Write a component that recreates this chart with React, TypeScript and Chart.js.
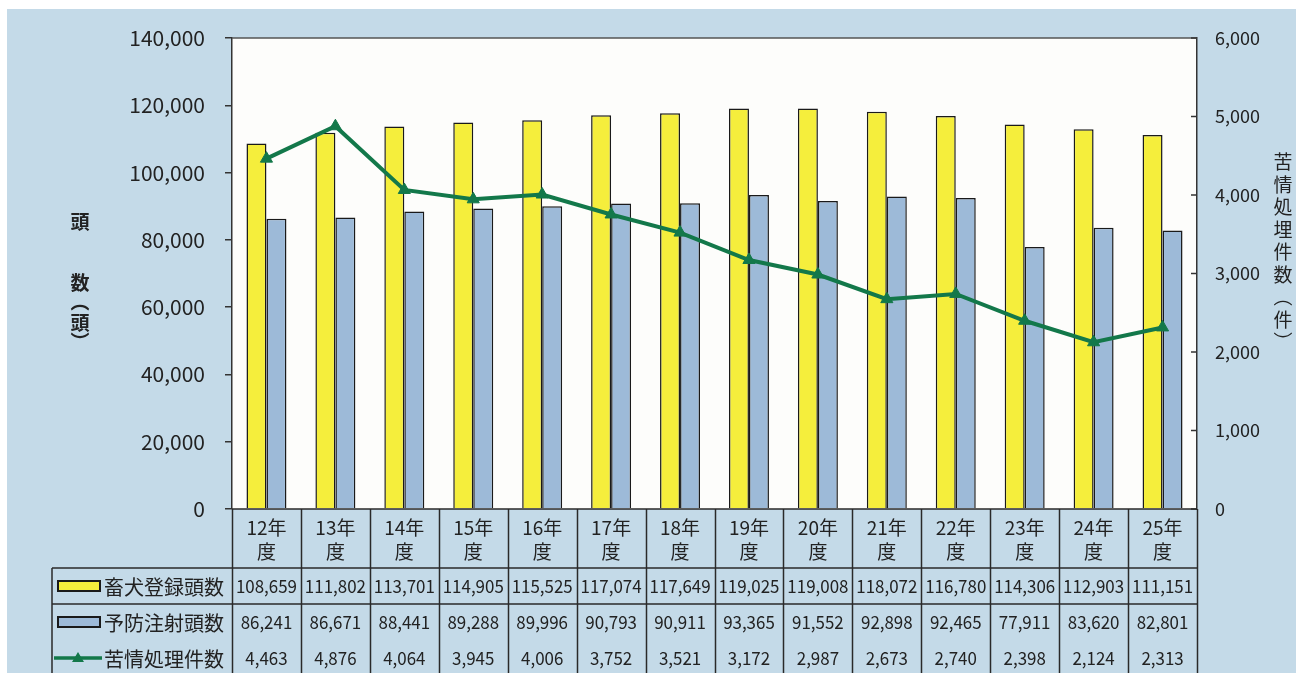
import React, { useEffect, useRef } from "react";
import { Chart, registerables } from "chart.js";

Chart.register(...registerables);

const categories = ["12年度", "13年度", "14年度", "15年度", "16年度", "17年度", "18年度", "19年度", "20年度", "21年度", "22年度", "23年度", "24年度", "25年度"];
const registrations = [108659, 111802, 113701, 114905, 115525, 117074, 117649, 119025, 119008, 118072, 116780, 114306, 112903, 111151];
const vaccinations = [86241, 86671, 88441, 89288, 89996, 90793, 90911, 93365, 91552, 92898, 92465, 77911, 83620, 82801];
const complaints = [4463, 4876, 4064, 3945, 4006, 3752, 3521, 3172, 2987, 2673, 2740, 2398, 2124, 2313];
const seriesNames = ["畜犬登録頭数", "予防注射頭数", "苦情処理件数"];
const leftTitle = ["頭", "", "数", "︵", "頭", "︶"];
const rightTitle = ["苦", "情", "処", "埋", "件", "数", "︵", "件", "︶"];
const leftTicks = { min: 0, max: 140000, step: 20000 };
const rightTicks = { min: 0, max: 6000, step: 1000 };

const BG = "#c4dae8";
const YELLOW = "#f5ee3c";
const BLUE = "#9dbad8";
const GREEN = "#13784a";
const INK = "#222222";
const FONT = '"Noto Sans CJK JP", "Noto Sans", sans-serif';

const fmt = (v: number) => v.toLocaleString("en-US");

const tablePlugin = {
  id: "tablePlugin",
  beforeDraw(chart: any) {
    const { ctx, chartArea, width, height } = chart;
    ctx.save();
    ctx.fillStyle = BG;
    ctx.fillRect(0, 0, width, height);
    ctx.fillStyle = "#fdfdfb";
    ctx.fillRect(chartArea.left, chartArea.top, chartArea.right - chartArea.left, chartArea.bottom - chartArea.top);
    ctx.restore();
  },
  afterDraw(chart: any) {
    const { ctx, chartArea, height } = chart;
    const x = chart.scales.x;
    const yR = chart.scales.y1;
    const n = categories.length;
    const colW = (chartArea.right - chartArea.left) / n;
    const rowTop = [559, 595, 631];
    const rowMid = [577, 613, 649];
    const legendLeft = 45;

    ctx.save();
    ctx.strokeStyle = "#555";
    ctx.lineWidth = 1.5;
    ctx.beginPath();
    ctx.moveTo(chartArea.left, chartArea.top);
    ctx.lineTo(chartArea.right, chartArea.top);
    ctx.stroke();

    ctx.strokeStyle = "#333";
    for (let v = rightTicks.min; v <= rightTicks.max; v += rightTicks.step) {
      const py = yR.getPixelForValue(v);
      ctx.beginPath();
      ctx.moveTo(chartArea.right - 6, py);
      ctx.lineTo(chartArea.right, py);
      ctx.stroke();
    }

    ctx.strokeStyle = "#2a2a2a";
    ctx.lineWidth = 1.5;
    for (let i = 0; i <= n; i++) {
      const px = Math.round(x.getPixelForValue(i) - colW / 2) + 0.5;
      ctx.beginPath();
      ctx.moveTo(px, chartArea.bottom);
      ctx.lineTo(px, height);
      ctx.stroke();
    }
    ctx.beginPath();
    ctx.moveTo(chartArea.left, chartArea.bottom);
    ctx.lineTo(chartArea.right, chartArea.bottom);
    ctx.moveTo(legendLeft, rowTop[0]);
    ctx.lineTo(chartArea.right, rowTop[0]);
    ctx.moveTo(legendLeft, rowTop[1]);
    ctx.lineTo(chartArea.right, rowTop[1]);
    ctx.moveTo(legendLeft, rowTop[0]);
    ctx.lineTo(legendLeft, height);
    ctx.stroke();

    const rows = [registrations, vaccinations, complaints];
    ctx.fillStyle = INK;
    ctx.textAlign = "center";
    ctx.textBaseline = "middle";
    ctx.font = `18px ${FONT}`;
    rows.forEach((arr, r) => {
      arr.forEach((v, i) => {
        ctx.save();
        ctx.translate(x.getPixelForValue(i), rowMid[r]);
        ctx.scale(0.94, 1);
        ctx.fillText(fmt(v), 0, 0);
        ctx.restore();
      });
    });

    ctx.textAlign = "left";
    ctx.font = `20px ${FONT}`;
    seriesNames.forEach((name, r) => {
      const cy = rowMid[r];
      if (r < 2) {
        ctx.fillStyle = r === 0 ? YELLOW : BLUE;
        ctx.fillRect(51, cy - 5, 42, 10);
        ctx.strokeStyle = "#1a1a1a";
        ctx.lineWidth = 2;
        ctx.strokeRect(51, cy - 5, 42, 10);
      } else {
        ctx.strokeStyle = GREEN;
        ctx.lineWidth = 3.5;
        ctx.beginPath();
        ctx.moveTo(47, cy);
        ctx.lineTo(95, cy);
        ctx.stroke();
        ctx.fillStyle = GREEN;
        ctx.beginPath();
        ctx.moveTo(71, cy - 6);
        ctx.lineTo(77, cy + 4);
        ctx.lineTo(65, cy + 4);
        ctx.closePath();
        ctx.fill();
      }
      ctx.fillStyle = INK;
      ctx.fillText(name, 97, cy + 1);
    });

    ctx.textAlign = "center";
    ctx.font = `bold 19px ${FONT}`;
    const leftY = [213, 236, 274, 293, 314, 333];
    leftTitle.forEach((ch, i) => {
      if (ch) ctx.fillText(ch, 73, leftY[i]);
    });
    ctx.font = `19px ${FONT}`;
    rightTitle.forEach((ch, i) => {
      ctx.fillText(ch, 1276, 153 + i * 22.5);
    });
    ctx.restore();
  },
};

export default function App() {
  const ref = useRef<HTMLCanvasElement | null>(null);
  useEffect(() => {
    if (!ref.current) return;
    const fitY = (w: number) => (s: any) => {
      s.width = w;
      s.paddingTop = 0;
      s.paddingBottom = 0;
    };
    const chart = new Chart(ref.current, {
      type: "bar",
      data: {
        labels: categories.map((c) => [c.replace("度", ""), "度"]),
        datasets: [
          {
            type: "bar",
            label: seriesNames[0],
            data: registrations,
            backgroundColor: YELLOW,
            borderColor: "#1a1a1a",
            borderWidth: 1.5,
            yAxisID: "y",
            order: 1,
            categoryPercentage: 0.58,
            barPercentage: 1.0,
          },
          {
            type: "bar",
            label: seriesNames[1],
            data: vaccinations,
            backgroundColor: BLUE,
            borderColor: "#1a1a1a",
            borderWidth: 1.5,
            yAxisID: "y",
            order: 1,
            categoryPercentage: 0.58,
            barPercentage: 1.0,
          },
          {
            type: "line",
            label: seriesNames[2],
            data: complaints,
            borderColor: GREEN,
            backgroundColor: GREEN,
            borderWidth: 4,
            pointStyle: "triangle",
            pointRadius: 7,
            pointBorderWidth: 1,
            yAxisID: "y1",
            order: 0,
            tension: 0,
          },
        ],
      } as any,
      options: {
        responsive: false,
        animation: false,
        layout: { padding: { top: 29, left: 0, right: 0, bottom: 0 } },
        plugins: { legend: { display: false }, tooltip: { enabled: false } },
        scales: {
          x: {
            grid: { display: false, drawTicks: false },
            border: { display: false },
            ticks: {
              color: INK,
              padding: 6,
              maxRotation: 0,
              autoSkip: false,
              font: { family: FONT, size: 19, lineHeight: 1.3 },
            },
            afterFit: (s: any) => {
              s.height = 164;
              s.paddingLeft = 0;
              s.paddingRight = 0;
            },
          },
          y: {
            position: "left",
            min: leftTicks.min,
            max: leftTicks.max,
            ticks: {
              stepSize: leftTicks.step,
              color: INK,
              padding: 20,
              font: { family: FONT, size: 21 },
              callback: (v: any) => fmt(Number(v)),
            },
            grid: { drawOnChartArea: false, drawTicks: true, tickLength: 7, color: "#333", lineWidth: 1.5 },
            border: { display: true, color: "#333", width: 1.5 },
            afterFit: fitY(225),
          },
          y1: {
            position: "right",
            min: rightTicks.min,
            max: rightTicks.max,
            ticks: {
              stepSize: rightTicks.step,
              color: INK,
              padding: 18,
              font: { family: FONT, size: 18 },
              callback: (v: any) => fmt(Number(v)),
            },
            grid: { drawOnChartArea: false, drawTicks: false },
            border: { display: true, color: "#333", width: 1.5 },
            afterFit: fitY(99),
          },
        },
      } as any,
      plugins: [tablePlugin],
    });
    return () => chart.destroy();
  }, []);

  return (
    <div style={{ position: "fixed", left: 7, top: 9, width: 1289, height: 664 }}>
      <canvas ref={ref} width={1289} height={664} style={{ display: "block" }} />
    </div>
  );
}
